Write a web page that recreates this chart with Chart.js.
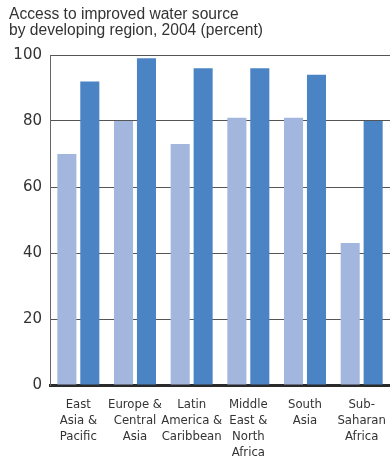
<!DOCTYPE html>
<html>
<head>
<meta charset="utf-8">
<script src="https://cdn.jsdelivr.net/npm/chart.js@4/dist/chart.umd.min.js"></script>
<style>
  html, body { margin: 0; padding: 0; background: #ffffff; }
  #wrap { width: 390px; height: 460px; position: relative; }
</style>
</head>
<body>
<div id="wrap"><canvas id="chart" width="390" height="460"></canvas></div>
<script>
// Regions (multi-line axis labels)
const regions = [
  ['East', 'Asia &', 'Pacific'],
  ['Europe &', 'Central', 'Asia'],
  ['Latin', 'America &', 'Caribbean'],
  ['Middle', 'East &', 'North', 'Africa'],
  ['South', 'Asia'],
  ['Sub-', 'Saharan', 'Africa']
];

// Share of population with access to an improved water source, 2004 (%)
const rural = [70, 80, 73, 81, 81, 43];
const urban = [92, 99, 96, 96, 94, 80];

const yTicks = [0, 20, 40, 60, 80, 100];

const titleLines = [
  'Access to improved water source',
  'by developing region, 2004 (percent)'
];

// Draws the two-line heading at the top left
const headingPlugin = {
  id: 'heading',
  afterDraw(chart) {
    const ctx = chart.ctx;
    ctx.save();
    ctx.fillStyle = '#333333';
    ctx.font = '15.6px "Liberation Sans", Arial, sans-serif';
    ctx.textBaseline = 'alphabetic';
    ctx.textAlign = 'left';
    ctx.fillText(titleLines[0], 9, 19);
    ctx.fillText(titleLines[1], 9, 35);
    ctx.restore();
  }
};

new Chart(document.getElementById('chart'), {
  type: 'bar',
  data: {
    labels: regions,
    datasets: [
      {
        label: 'Rural',
        data: rural,
        backgroundColor: '#a3b6dd',
        categoryPercentage: 0.81,
        barPercentage: 0.83
      },
      {
        label: 'Urban',
        data: urban,
        backgroundColor: '#4a84c4',
        categoryPercentage: 0.81,
        barPercentage: 0.83
      }
    ]
  },
  options: {
    responsive: false,
    animation: false,
    devicePixelRatio: 1,
    layout: { padding: { top: 55, left: 0, right: 0, bottom: 0 } },
    plugins: {
      legend: { display: false },
      title: { display: false },
      tooltip: { enabled: false }
    },
    scales: {
      x: {
        grid: { display: false, drawTicks: false },
        border: { display: true, color: '#2a2a2a', width: 3 },
        ticks: {
          color: '#333333',
          padding: 12,
          maxRotation: 0,
          autoSkip: false,
          font: { family: '"Liberation Sans Narrow", "DejaVu Sans Condensed", sans-serif', size: 13, lineHeight: 1.23 }
        },
        afterFit(scale) {
          scale.height = 75;
          scale.paddingLeft = 0;
          scale.paddingRight = 0;
        }
      },
      y: {
        min: 0,
        max: 100,
        afterBuildTicks(scale) {
          scale.ticks = yTicks.map(v => ({ value: v }));
        },
        grid: {
          drawTicks: false,
          color: ctx => (ctx.tick && ctx.tick.value === 0) ? 'rgba(0,0,0,0)' : '#555555',
          lineWidth: 1
        },
        border: { display: true, color: '#666666', width: 1 },
        ticks: {
          color: '#333333',
          padding: 8,
          font: { family: '"DejaVu Sans", sans-serif', size: 15 }
        },
        afterFit(scale) {
          scale.width = 50;
          scale.paddingTop = 0;
          scale.paddingBottom = 0;
        }
      }
    }
  },
  plugins: [headingPlugin]
});
</script>
</body>
</html>
